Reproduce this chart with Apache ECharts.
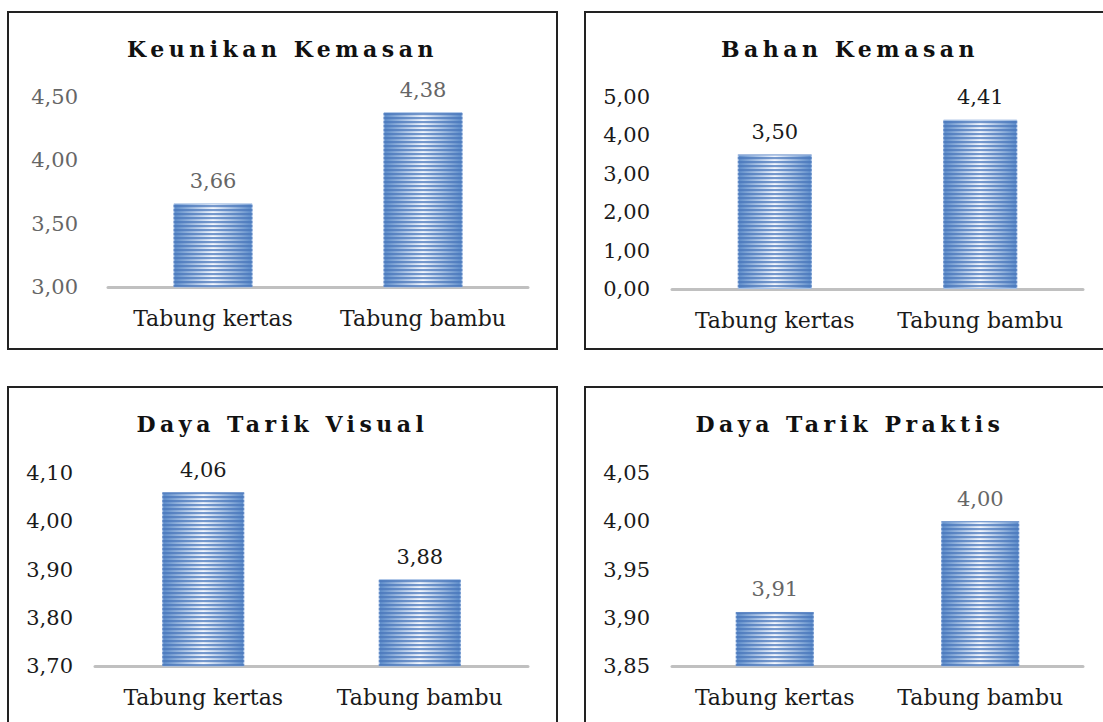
<!DOCTYPE html>
<html>
<head>
<meta charset="utf-8">
<title>Kemasan</title>
<script src="https://cdn.jsdelivr.net/npm/echarts@6/dist/echarts.min.js"></script>
<style>
  html, body { margin: 0; padding: 0; background: #fff; width: 1103px; height: 722px; overflow: hidden; }
  .panel { position: absolute; box-sizing: border-box; border: 2px solid #222; background: #fff; }
  /* titles are the only bold texts: give them the wide letter spacing */
  .panel text[style*="bold"] { letter-spacing: 4.5px; }
</style>
</head>
<body>
<div class="panel" id="p1" style="left:7px;top:11px;width:551px;height:339px"></div>
<div class="panel" id="p2" style="left:584px;top:11px;width:532px;height:339px"></div>
<div class="panel" id="p3" style="left:7px;top:386px;width:551px;height:339px"></div>
<div class="panel" id="p4" style="left:584px;top:386px;width:532px;height:339px"></div>
<script>
// data
var categories = ['Tabung kertas', 'Tabung bambu'];

var keunikanValues = [3.66, 4.38];
var bahanValues = [3.50, 4.41];
var visualValues = [4.06, 3.88];
var praktisValues = [3.906, 4.00];

// axis: min, max, interval
var keunikanTicks = [3.0, 4.5, 0.5];
var bahanTicks = [0, 5, 1];
var visualTicks = [3.7, 4.1, 0.1];
var praktisTicks = [3.85, 4.05, 0.05];

var FONT = 'DejaVu Serif';
var GREY = '#666';
var DARK = '#1a1a1a';

function comma(v) {
  return Number(v).toFixed(2).replace('.', ',');
}

// horizontal stripes laid over the bar gradient
function stripes() {
  var c = document.createElement('canvas');
  c.width = 4;
  c.height = 4;
  var ctx = c.getContext('2d');
  ctx.fillStyle = 'rgba(70,117,186,0.72)';
  ctx.fillRect(0, 0, 4, 2);
  ctx.fillStyle = 'rgba(70,117,186,0.12)';
  ctx.fillRect(0, 2, 4, 1);
  return c.toDataURL();
}
var stripeUrl = stripes();

function drawPanel(id, title, values, ticks, opt) {
  var chart = echarts.init(document.getElementById(id), null, { renderer: 'svg' });
  chart.setOption({
    animation: false,
    title: {
      text: title,
      left: 'center',
      top: opt.titleTop,
      textStyle: { fontFamily: FONT, fontSize: 22, fontWeight: 'bold', color: '#111' }
    },
    grid: { left: opt.left, right: opt.right, top: opt.top, bottom: opt.bottom, containLabel: false },
    xAxis: {
      type: 'category',
      data: categories,
      axisLine: { lineStyle: { color: '#c0c0c0', width: 3 } },
      axisTick: { show: false },
      axisLabel: { interval: 0, hideOverlap: false, fontFamily: FONT, fontSize: 22, color: DARK, margin: 20 }
    },
    yAxis: {
      type: 'value',
      min: ticks[0],
      max: ticks[1],
      interval: ticks[2],
      splitLine: { show: false },
      axisLine: { show: false },
      axisTick: { show: false },
      axisLabel: {
        fontFamily: FONT, fontSize: 21, color: opt.tickColor, margin: opt.margin,
        formatter: comma
      }
    },
    series: [
      {
        type: 'bar',
        data: values,
        barWidth: opt.barWidth,
        silent: true,
        itemStyle: {
          color: {
            type: 'linear', x: 0, y: 0, x2: 1, y2: 0,
            colorStops: [
              { offset: 0, color: '#5b8bc9' },
              { offset: 0.5, color: '#f3f7fd' },
              { offset: 1, color: '#5b8bc9' }
            ]
          },
          borderColor: '#a8c2e6',
          borderWidth: 1
        }
      },
      {
        type: 'bar',
        data: values,
        barWidth: opt.barWidth,
        barGap: '-100%',
        silent: true,
        itemStyle: {
          color: { image: stripeUrl, repeat: 'repeat', imageWidth: 4, imageHeight: 4 }
        },
        label: {
          show: true,
          position: 'top',
          distance: 12,
          fontFamily: FONT,
          fontSize: 21,
          color: opt.valueColor,
          formatter: function (p) { return comma(p.value); }
        }
      }
    ]
  });
  return chart;
}

drawPanel('p1', 'Keunikan Kemasan', keunikanValues, keunikanTicks, {
  titleTop: 20, left: 99, right: 28, top: 84, bottom: 61,
  margin: 30, barWidth: 79, tickColor: GREY, valueColor: GREY
});
drawPanel('p2', 'Bahan Kemasan', bahanValues, bahanTicks, {
  titleTop: 20, left: 86, right: 31, top: 84, bottom: 59,
  margin: 22, barWidth: 74, tickColor: DARK, valueColor: DARK
});
drawPanel('p3', 'Daya Tarik Visual', visualValues, visualTicks, {
  titleTop: 20, left: 86, right: 28, top: 85, bottom: 57,
  margin: 22, barWidth: 82, tickColor: DARK, valueColor: DARK
});
drawPanel('p4', 'Daya Tarik Praktis', praktisValues, praktisTicks, {
  titleTop: 20, left: 86, right: 31, top: 85, bottom: 57,
  margin: 22, barWidth: 78, tickColor: DARK, valueColor: GREY
});
</script>
</body>
</html>
